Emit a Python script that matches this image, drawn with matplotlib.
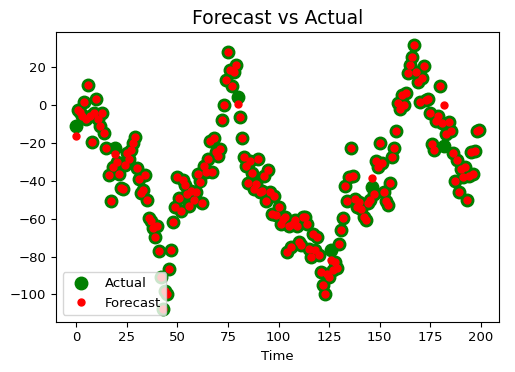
import numpy as np
import matplotlib
matplotlib.use('Agg')
import matplotlib.pyplot as plt

# valores (indice de tiempo 0..199)
actual = [
    -11.5, -2.7, -4.0, -6.0, 1.3, -7.4, 10.2, -6.0, -19.5, -4.3,
    3.2, -7.4, -11.3, -4.5, -15.0, -23.0, -37.3, -51.0, -32.8, -23.0,
    -30.0, -36.6, -44.0, -44.5, -32.0, -25.5, -28.7, -24.0, -20.0, -16.8,
    -33.6, -39.0, -46.5, -45.0, -37.3, -50.0, -59.5, -61.5, -65.0, -69.6,
    -64.0, -76.9, -91.0, -107.4, -98.0, -100.0, -86.5, -76.8, -61.6, -54.0,
    -38.3, -49.0, -55.8, -39.5, -42.3, -47.0, -53.2, -45.3, -50.0, -45.9,
    -36.6, -40.4, -52.0, -32.2, -35.7, -28.4, -19.0, -35.7, -17.4, -25.2,
    -27.0, -23.5, -8.1, -0.3, 13.2, 27.6, 18.4, 9.6, 17.2, 20.8,
    3.9, -6.5, -17.6, -27.5, -32.5, -41.3, -29.6, -36.0, -44.4, -41.8,
    -28.7, -46.2, -45.3, -37.8, -50.6, -34.3, -46.2, -57.5, -48.3, -57.9,
    -54.0, -62.8, -60.2, -59.3, -77.6, -63.7, -75.0, -62.8, -61.0, -63.7,
    -72.4, -73.8, -59.0, -59.0, -62.8, -75.9, -80.2, -68.0, -76.8, -69.8,
    -79.4, -88.1, -94.8, -99.5, -89.0, -90.7, -76.8, -87.3, -82.9, -86.0,
    -73.3, -65.9, -59.8, -42.7, -50.6, -38.3, -22.6, -37.5, -49.7, -54.0,
    -51.1, -54.9, -59.3, -61.0, -51.8, -50.0, -43.6, -47.1, -29.9, -33.0,
    -20.3, -31.0, -45.9, -50.6, -52.8, -41.3, -27.8, -22.6, -13.9, 0.6,
    -2.5, 5.3, -0.4, 5.9, 16.4, 21.1, 25.0, 31.3, 17.0, 11.8,
    1.3, 14.1, 20.2, 2.2, 2.7, -4.3, -20.9, -23.8, -8.6, -6.0,
    10.0, -9.5, -21.7, -15.6, -9.2, -13.9, -25.6, -40.1, -29.1, -45.9,
    -34.0, -38.3, -33.0, -50.0, -37.5, -25.2, -36.6, -24.4, -13.9, -13.4,
]

forecast = [
    -16.5, -2.7, -4.0, -6.0, 1.3, -7.4, 10.2, -6.0, -19.5, -4.3,
    3.2, -7.4, -11.3, -4.5, -15.0, -23.0, -37.3, -51.0, -32.8, -26.0,
    -30.0, -36.6, -44.0, -44.5, -32.0, -25.5, -28.7, -24.0, -20.0, -16.8,
    -33.6, -39.0, -46.5, -45.0, -37.3, -50.0, -59.5, -61.5, -65.0, -69.6,
    -64.0, -76.9, -91.0, -107.4, -98.0, -100.0, -86.5, -76.8, -61.6, -54.0,
    -38.3, -49.0, -55.8, -39.5, -42.3, -47.0, -53.2, -45.3, -50.0, -45.9,
    -36.6, -41.0, -52.0, -32.2, -35.7, -28.4, -19.0, -35.7, -17.4, -25.2,
    -27.0, -23.5, -8.1, -0.3, 13.2, 27.6, 18.4, 9.6, 17.2, 20.8,
    0.5, -6.5, -17.6, -27.5, -32.5, -41.3, -29.6, -36.0, -44.4, -41.8,
    -28.7, -46.2, -45.3, -37.8, -50.6, -34.3, -46.2, -57.5, -48.3, -57.9,
    -54.0, -62.8, -60.2, -59.3, -77.6, -63.7, -75.0, -62.8, -61.0, -63.7,
    -72.4, -73.8, -59.0, -59.0, -62.8, -75.9, -80.2, -68.0, -76.8, -69.8,
    -79.4, -88.1, -94.8, -99.5, -89.0, -90.7, -82.0, -87.3, -82.9, -86.0,
    -73.3, -65.9, -59.8, -42.7, -50.6, -38.3, -22.6, -37.5, -49.7, -54.0,
    -51.1, -54.9, -59.3, -61.0, -51.8, -50.0, -38.8, -47.1, -29.9, -33.0,
    -20.3, -31.0, -45.9, -50.6, -52.8, -41.3, -27.8, -22.6, -13.9, 0.6,
    -2.5, 5.3, -0.4, 5.9, 16.4, 21.1, 25.0, 31.3, 17.0, 11.8,
    1.3, 14.1, 20.2, 2.2, 2.7, -4.3, -20.9, -23.8, -8.6, -6.0,
    10.0, -9.5, -0.4, -15.6, -9.2, -13.9, -25.6, -40.1, -29.1, -45.9,
    -34.0, -38.3, -33.0, -50.0, -37.5, -25.2, -36.6, -24.4, -13.9, -13.4,
]

tiempo = np.arange(len(actual))

fig = plt.figure(figsize=(5.15, 3.72), dpi=100)
fig.subplots_adjust(left=56/515, right=499/515, top=1-32/372, bottom=1-321.7/372)
ax = fig.add_subplot(111)

ax.plot(tiempo, actual, 'o', color='green', markersize=9, label='Actual')
ax.plot(tiempo, forecast, 'o', color='red', markersize=5, label='Forecast')

ax.set_title('Forecast vs Actual', fontsize=13.5)
ax.set_xlabel('Time', fontsize=9.5)
ax.tick_params(labelsize=9.5)
ax.set_xticks([0, 25, 50, 75, 100, 125, 150, 175, 200])
ax.legend(loc='lower left', fontsize=9.5)

plt.savefig('out.png', dpi=100)
